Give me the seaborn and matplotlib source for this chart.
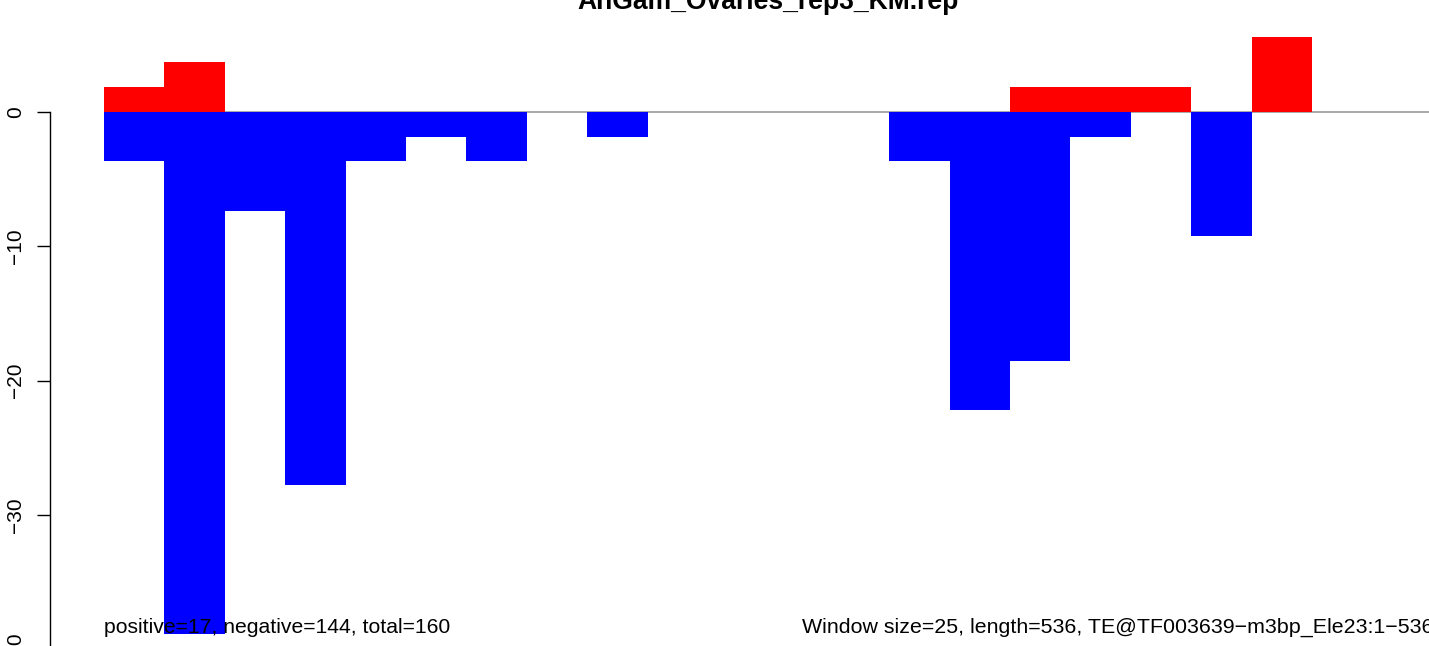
import matplotlib
matplotlib.use("Agg")
import matplotlib.pyplot as plt
import seaborn as sns
import pandas as pd

sns.set_style("white")
plt.rcParams['font.family'] = ['Liberation Sans', 'DejaVu Sans']
plt.rcParams['text.color'] = 'black'
plt.rcParams['ytick.color'] = 'black'
plt.rcParams['ytick.labelcolor'] = 'black'

# ---- data ----
windows = list(range(1, 23))
positive = [1.85, 3.70, 0, 0, 0, 0, 0, 0, 0, 0, 0, 0, 0, 0, 0,
            1.85, 1.85, 1.85, 0, 5.55, 0, 0]
negative = [-3.70, -38.85, -7.40, -27.75, -3.70, -1.85, -3.70, 0, -1.85, 0, 0,
            0, 0, -3.70, -22.20, -18.50, -1.85, 0, -9.25, 0, 0, 0]
yticks = [0, -10, -20, -30, -40]
title = "AnGam_Ovaries_rep3_KM.rep"
left_note = "positive=17, negative=144, total=160"
right_note = "Window size=25, length=536, TE@TF003639\u2212m3bp_Ele23:1\u2212536"

df = pd.DataFrame({"window": windows, "pos": positive, "neg": negative})

W, H = 1429, 646
fig = plt.figure(figsize=(W / 100, H / 100), dpi=100)

# axes: left spine at x=50px, top at figure top, extends below figure
ax_left, ax_bottom_px = 50, 700
ax = fig.add_axes([ax_left / W, 1 - ax_bottom_px / H, (W - ax_left) / W, ax_bottom_px / H])

y0_px = 111.7
px_per_unit = 13.45
bar_px = 60.4
first_bar_px = 104

ax.hlines(0, -0.5, 30, color="#A0A0A0", lw=1.3, zorder=0.5)

sns.barplot(data=df, x="window", y="pos", color="#FF0000", saturation=1,
            width=1.0, errorbar=None, linewidth=0, ax=ax, zorder=2)
sns.barplot(data=df, x="window", y="neg", color="#0000FF", saturation=1,
            width=1.0, errorbar=None, linewidth=0, ax=ax, zorder=2)

# limits mapping pixels
xl = -0.5 - (first_bar_px - ax_left) / bar_px
xr = -0.5 + (W - first_bar_px) / bar_px
ax.set_xlim(xl, xr)
ytop = y0_px / px_per_unit
ybot = -(ax_bottom_px - y0_px) / px_per_unit
ax.set_ylim(ybot, ytop)

for s in ["top", "right", "bottom"]:
    ax.spines[s].set_visible(False)
ax.spines["left"].set_bounds(-40, 0)
ax.spines["left"].set_linewidth(1.0)
ax.spines["left"].set_color("black")
ax.set_xticks([])
ax.set_yticks(yticks)
ax.set_yticklabels([str(t).replace("-", "\u2212") for t in yticks],
                   rotation=90, va="center", fontsize=15, color="black")
ax.tick_params(axis="y", left=True, length=9.5, width=1.0, color="black", pad=8.5)
ax.set_xlabel("")
ax.set_ylabel("")
ax.patch.set_alpha(0)

fig.text(768 / W, 1 - 9 / H, title, ha="center", va="baseline",
         fontsize=19.1, fontweight="bold", color="black")
fig.text(104 / W, 1 - 633 / H, left_note, ha="left", va="baseline",
         fontsize=15.2, color="black")
fig.text(1434 / W, 1 - 633 / H, right_note, ha="right", va="baseline",
         fontsize=15.4, color="black")

fig.savefig("out.png", dpi=100)
